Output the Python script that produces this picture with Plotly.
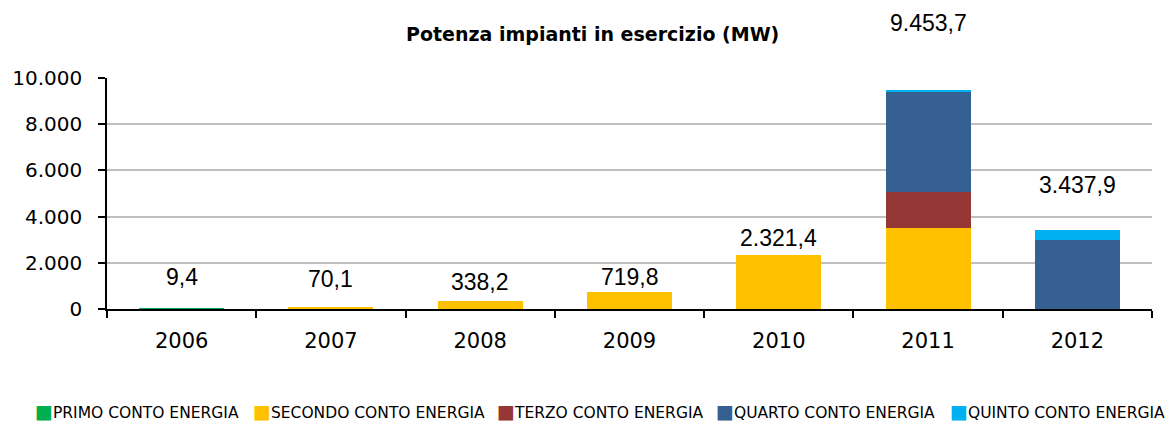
import plotly.graph_objects as go

# Installed capacity (MW) by year and incentive scheme
years = ["2006", "2007", "2008", "2009", "2010", "2011", "2012"]
primo = [9.4, 30.2, 0, 0, 0, 0, 0]
secondo = [0, 39.9, 338.2, 719.8, 2321.4, 3516.9, 0]
terzo = [0, 0, 0, 0, 0, 1560.2, 0]
quarto = [0, 0, 0, 0, 0, 4333.2, 2975.0]
quinto = [0, 0, 0, 0, 0, 43.4, 462.9]

series_names = ["PRIMO CONTO ENERGIA", "SECONDO CONTO ENERGIA", "TERZO CONTO ENERGIA",
                "QUARTO CONTO ENERGIA", "QUINTO CONTO ENERGIA"]
series_values = [primo, secondo, terzo, quarto, quinto]
series_colors = ["#00B050", "#FFC000", "#953735", "#376092", "#00B0F0"]

totals = [round(sum(v), 1) for v in zip(*series_values)]

# vertical offset (px) of each total label above its bar
label_shift = [32, 28, 19, 15, 17, 68, 45]
# legend entry left edges (px)
legend_x = [33, 251, 495, 714, 948]

W, H = 1165, 421
ML, MR, MT, MB = 107, 13, 78, 112


def it_fmt(v):
    s = f"{v:,.1f}"
    return s.replace(",", "_").replace(".", ",").replace("_", ".")


fig = go.Figure()
for name, vals, col in zip(series_names, series_values, series_colors):
    fig.add_trace(go.Bar(x=years, y=vals, name=name, marker_color=col,
                         marker_line_width=0, showlegend=False))

annotations = []
for i, (tot, sh) in enumerate(zip(totals, label_shift)):
    annotations.append(dict(x=i, y=tot, xref="x", yref="y", text=it_fmt(tot),
                            showarrow=False, yanchor="middle", yshift=sh,
                            font=dict(family="Liberation Sans", size=23, color="#000")))

for name, col, lx in zip(series_names, series_colors, legend_x):
    annotations.append(dict(
        x=(lx - ML) / (W - ML - MR), y=-(411 - (H - MB)) / (H - MT - MB),
        xref="paper", yref="paper", xanchor="left", yanchor="middle", showarrow=False,
        text=f"<span style='color:{col};font-size:19px'>■</span>{name}",
        font=dict(family="DejaVu Sans", size=15.5, color="#000")))

annotations.append(dict(x=(592 - ML) / (W - ML - MR), y=1 + (MT - 34) / (H - MT - MB),
                        xref="paper", yref="paper", showarrow=False, yanchor="middle",
                        text="<b>Potenza impianti in esercizio (MW)</b>",
                        font=dict(family="DejaVu Sans", size=19, color="#000")))

fig.update_layout(
    width=W, height=H,
    margin=dict(l=ML, r=MR, t=MT, b=MB, pad=0),
    barmode="stack", bargap=0.43,
    paper_bgcolor="white", plot_bgcolor="white",
    separators=",.",
    annotations=annotations,
    font=dict(family="DejaVu Sans", color="#000"),
)
fig.update_yaxes(range=[0, 10000], dtick=2000, tickformat=",d",
                 showgrid=True, gridcolor="#C0C0C0", gridwidth=1.5,
                 showline=True, linecolor="#000", linewidth=1.5,
                 ticks="outside", ticklen=7, tickcolor="#000", tickwidth=1.5,
                 tickfont=dict(family="DejaVu Sans", size=20), ticklabelstandoff=12,
                 zeroline=False, fixedrange=True)
fig.update_xaxes(type="category", range=[-0.5, len(years) - 0.5],
                 showline=True, linecolor="#000", linewidth=2,
                 ticks="outside", ticklen=7, tickcolor="#000", tickwidth=1.5,
                 tickson="boundaries", showgrid=False,
                 tickfont=dict(family="DejaVu Sans", size=21), ticklabelstandoff=12,
                 fixedrange=True)

fig.write_html("out.html")
